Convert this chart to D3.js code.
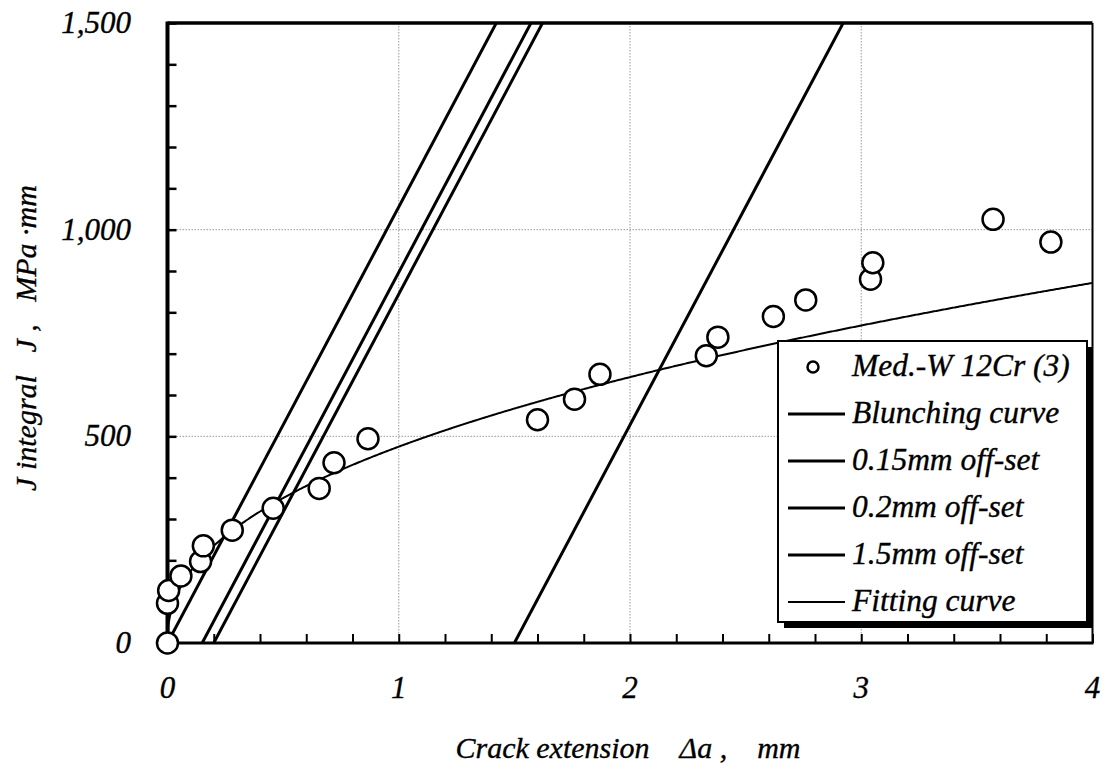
<!DOCTYPE html>
<html>
<head>
<meta charset="utf-8">
<script src="https://cdn.jsdelivr.net/npm/d3@7"></script>
<style>
  html, body { margin: 0; padding: 0; background: #fff; }
  svg { display: block; }
  svg text { font-family: "Liberation Serif", "Times New Roman", Times, serif; font-style: italic; fill: #000; stroke: #000; stroke-width: 0.35px; }
</style>
</head>
<body>
<svg id="chart" width="1106" height="771"></svg>
<script>
// Measured J-R data: crack extension (mm) and J integral (MPa·mm)
const crackExt = [0, 0.0, 0.005, 0.058, 0.143, 0.155, 0.28, 0.457, 0.656, 0.72, 0.867,
                  1.6, 1.76, 1.87, 2.33, 2.38, 2.62, 2.76, 3.04, 3.05, 3.57, 3.82];
const jValues  = [0, 96, 127, 162, 197, 235, 273, 326, 374, 436, 494,
                  540, 590, 650, 695, 740, 790, 830, 880, 920, 1025, 970];

// Blunting line slope (MPa) and offsets (mm)
const bluntSlope = 1055;
const offsets = [0, 0.15, 0.2, 1.5];

// Power-law fit J = C * Δa^n
const fitC = 475, fitN = 0.4375;

const xTicks = [0, 1, 2, 3, 4];
const yTicks = [0, 500, 1000, 1500];

const legendLabels = ["Med.-W 12Cr (3)", "Blunching curve", "0.15mm off-set",
                      "0.2mm off-set", "1.5mm off-set", "Fitting curve"];

const svg = d3.select("#chart");
const pLeft = 167.5, pRight = 1092.5, pTop = 23, pBottom = 643;

const x = d3.scaleLinear().domain([0, 4]).range([pLeft, pRight]);
const y = d3.scaleLinear().domain([0, 1500]).range([pBottom, pTop]);

// grid lines
const grid = svg.append("g").attr("stroke", "#999").attr("stroke-width", 1).attr("stroke-dasharray", "1.5,1.5");
[1, 2, 3].forEach(v => grid.append("line").attr("x1", x(v)).attr("x2", x(v)).attr("y1", pTop).attr("y2", pBottom));
[500, 1000].forEach(v => grid.append("line").attr("x1", pLeft).attr("x2", pRight).attr("y1", y(v)).attr("y2", y(v)));

// clip region for lines
svg.append("clipPath").attr("id", "plotClip").append("rect")
  .attr("x", pLeft).attr("y", pTop).attr("width", pRight - pLeft).attr("height", pBottom - pTop);

const plot = svg.append("g").attr("clip-path", "url(#plotClip)");

// blunting and offset lines
const line = d3.line().x(d => x(d[0])).y(d => y(d[1]));
offsets.forEach(o => {
  const pts = [[o, 0], [o + 1600 / bluntSlope, 1600]];
  plot.append("path").attr("d", line(pts)).attr("fill", "none")
    .attr("stroke", "#000").attr("stroke-width", 3);
});

// fitting curve
const fitPts = d3.range(0, 4.0001, 0.005).map(a => [a, a === 0 ? 0 : fitC * Math.pow(a, fitN)]);
plot.append("path").attr("d", line(fitPts)).attr("fill", "none")
  .attr("stroke", "#000").attr("stroke-width", 2);

// axes (inward ticks)
const xAxis = d3.axisBottom(x).tickValues(d3.range(0, 4.001, 0.2)).tickSize(-9).tickFormat("");
svg.append("g").attr("transform", `translate(0,${pBottom})`).call(xAxis)
  .call(g => g.select(".domain").remove())
  .call(g => g.selectAll("line").attr("stroke-width", 2));
const yAxis = d3.axisLeft(y).tickValues(d3.range(0, 1501, 100)).tickSize(-9).tickFormat("");
svg.append("g").attr("transform", `translate(${pLeft},0)`).call(yAxis)
  .call(g => g.select(".domain").remove())
  .call(g => g.selectAll("line").attr("stroke-width", 2.5));

// frame
svg.append("line").attr("x1", pLeft).attr("x2", pLeft).attr("y1", pTop - 1.5).attr("y2", pBottom + 1.5).attr("stroke", "#000").attr("stroke-width", 4);
svg.append("line").attr("x1", pLeft).attr("x2", pRight).attr("y1", pTop).attr("y2", pTop).attr("stroke", "#000").attr("stroke-width", 3.5);
svg.append("line").attr("x1", pLeft).attr("x2", pRight + 1).attr("y1", pBottom).attr("y2", pBottom).attr("stroke", "#000").attr("stroke-width", 3);
svg.append("line").attr("x1", pRight).attr("x2", pRight).attr("y1", pTop).attr("y2", pBottom).attr("stroke", "#000").attr("stroke-width", 2);

// data points
svg.append("g").selectAll("circle").data(crackExt.map((a, i) => [a, jValues[i]])).join("circle")
  .attr("cx", d => x(d[0])).attr("cy", d => y(d[1])).attr("r", 10.5)
  .attr("fill", "#fff").attr("stroke", "#000").attr("stroke-width", 2.5);

// tick labels
svg.append("g").selectAll("text").data(xTicks).join("text")
  .attr("x", d => x(d)).attr("y", 698).attr("text-anchor", "middle")
  .attr("font-size", 31).text(d => d);
const fmt = d3.format(",");
svg.append("g").selectAll("text").data(yTicks).join("text")
  .attr("x", 131).attr("y", d => y(d) + 10).attr("text-anchor", "end")
  .attr("font-size", 31).text(d => fmt(d));

// axis titles
svg.append("text").attr("x", 628).attr("y", 758).attr("text-anchor", "middle")
  .attr("font-size", 30).attr("xml:space", "preserve").text("Crack extension    Δa ,    mm");
svg.append("text").attr("transform", "translate(36,338) rotate(-90)").attr("text-anchor", "middle")
  .attr("font-size", 30).attr("xml:space", "preserve").text("J integral   J ,   MPa ·mm");

// legend with drop shadow
const lg = svg.append("g");
const lx = 778, ly = 341, lw = 309, lh = 281;
lg.append("rect").attr("x", lx + 6).attr("y", ly + 6).attr("width", lw).attr("height", lh).attr("fill", "#000");
lg.append("rect").attr("x", lx).attr("y", ly).attr("width", lw).attr("height", lh)
  .attr("fill", "#fff").attr("stroke", "#000").attr("stroke-width", 2);
legendLabels.forEach((lab, i) => {
  const cy = 367 + i * 47;
  if (i === 0) {
    lg.append("circle").attr("cx", 813).attr("cy", cy).attr("r", 5.5)
      .attr("fill", "#fff").attr("stroke", "#000").attr("stroke-width", 2.5);
  } else {
    lg.append("line").attr("x1", 788).attr("x2", 845).attr("y1", cy).attr("y2", cy)
      .attr("stroke", "#000").attr("stroke-width", i === 5 ? 2 : 3);
  }
  lg.append("text").attr("x", 852).attr("y", cy + 9).attr("font-size", 31.5).text(lab);
});
</script>
</body>
</html>
